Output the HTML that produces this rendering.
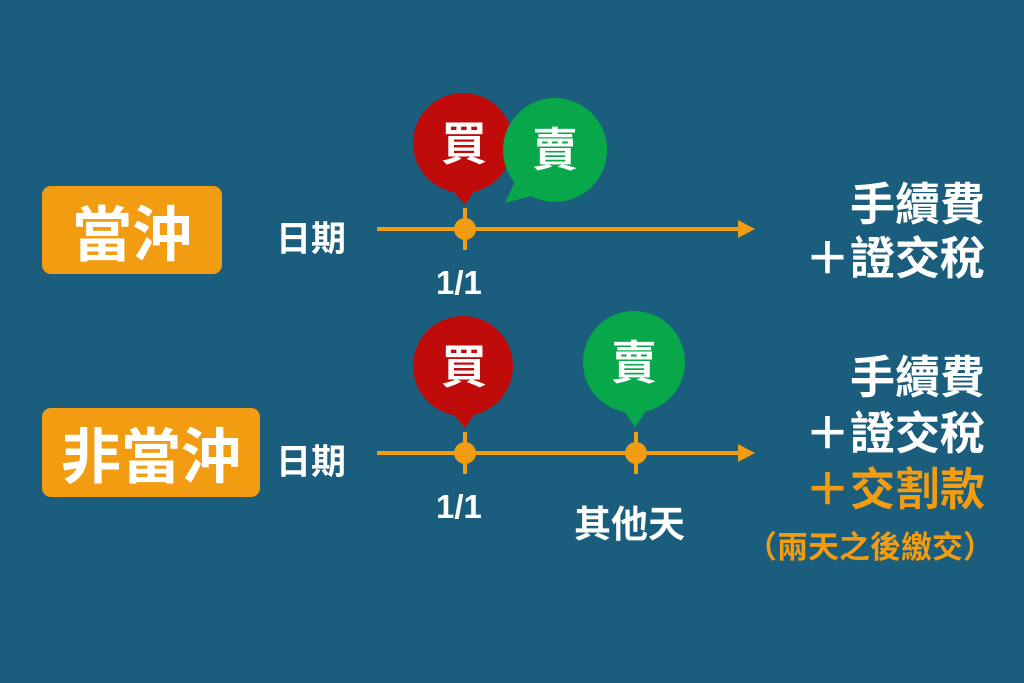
<!DOCTYPE html>
<html><head><meta charset="utf-8"><style>
body{margin:0;width:1024px;height:683px;background:#1a5d7d;overflow:hidden;position:relative;font-family:"Liberation Sans","Noto Sans CJK TC",sans-serif;font-weight:bold}
.t{position:absolute;white-space:nowrap;color:#fff}
.box{position:absolute;background:#f29c11;border-radius:9px;color:#fff;font-size:60px;display:flex;align-items:center;justify-content:center}
.r{right:39px;text-align:right;font-size:45px;line-height:45px}
</style></head><body>
<div class="box" style="left:42px;top:186px;width:180px;height:88px">當沖</div>
<div class="box" style="left:42px;top:408px;width:218px;height:89px">非當沖</div>
<div class="t" style="left:276px;top:211px;font-size:35px">日期</div>
<div class="t" style="left:276px;top:434px;font-size:35px">日期</div>
<div class="t" style="left:436px;top:264px;font-size:33px">1/1</div>
<div class="t" style="left:436px;top:488px;font-size:33px">1/1</div>
<div class="t" style="left:574px;top:494px;font-size:37px">其他天</div>
<svg width="1024" height="683" style="position:absolute;left:0;top:0">
<g stroke="#f29c11" stroke-width="4" fill="#f29c11">
<line x1="377" y1="229" x2="742" y2="229"/><polygon points="738,220 755,229 738,238" stroke="none"/>
<line x1="465" y1="208" x2="465" y2="250"/><circle cx="465" cy="229" r="11" stroke="none"/>
<line x1="377" y1="453" x2="742" y2="453"/><polygon points="738,444 755,453 738,462" stroke="none"/>
<line x1="465" y1="432" x2="465" y2="474"/><circle cx="465" cy="453" r="11" stroke="none"/>
<line x1="636" y1="432" x2="636" y2="474"/><circle cx="636" cy="453" r="11" stroke="none"/>
</g>
<g fill="#c00b0b"><circle cx="463" cy="143" r="50"/><polygon points="448,185 478,185 465,205"/>
<circle cx="463" cy="366" r="50"/><polygon points="448,408 478,408 465,428"/></g>
<g fill="#08a84a"><circle cx="555" cy="150" r="52"/><polygon points="518,175 535,195 505,203"/>
<circle cx="634" cy="362" r="51"/><polygon points="620,405 650,405 635,427"/></g>
<g fill="#fff" font-size="46" text-anchor="middle" font-family="Liberation Sans,Noto Sans CJK TC,sans-serif" font-weight="bold">
<text x="464" y="160">買</text><text x="555" y="166">賣</text>
<text x="464" y="383">買</text><text x="634" y="379">賣</text></g>
</svg>
<div class="t r" style="top:182px">手續費</div>
<div class="t r" style="top:236px">＋證交稅</div>
<div class="t r" style="top:355px">手續費</div>
<div class="t r" style="top:411px">＋證交稅</div>
<div class="t r" style="top:467px;color:#f29c11">＋交割款</div>
<div class="t" style="right:30px;top:522px;font-size:31px;color:#f29c11">（兩天之後繳交）</div>
</body></html>
